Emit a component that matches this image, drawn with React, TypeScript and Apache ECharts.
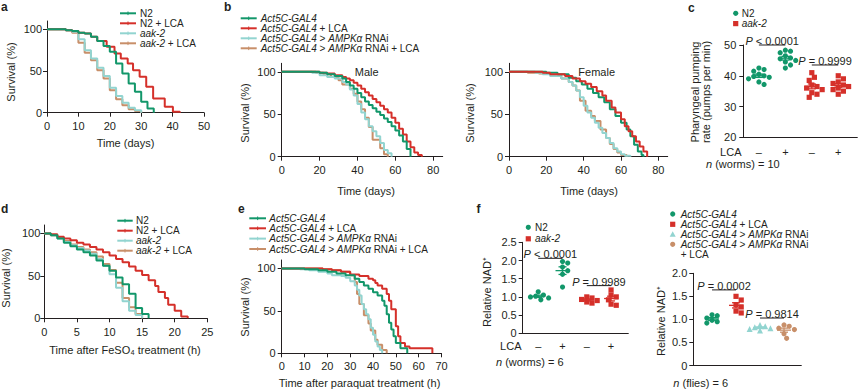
import React, { useEffect, useRef } from 'react';
import * as echarts from 'echarts';

const FONT = '"Liberation Sans", Arial, Helvetica, sans-serif';
const INK = '#231f20';
const GREEN = '#12976a';
const RED = '#d5302a';
const CYAN = '#92d4d0';
const TAN = '#c88f69';

// ---------- a: worm lifespan (days, % survival)
const aN2 = [[0,100],[6,99],[8,98],[10,96],[12,95],[14,91],[16,86],[18,80],[20,73],[22,59],[24,47],[26,35],[28,25],[30,13],[32,5],[34,0]];
const aN2LCA = [[0,100],[6,99],[8,98],[10,96],[12,95],[14,91],[16,86],[19,79],[21.5,71],[23.5,65],[25.7,59],[27.4,51],[29.5,43],[31.6,31],[33.8,17],[37.5,7],[40.1,1],[42.3,0]];
const aAak = [[0,100],[6,99],[8,97],[10,88],[12,75],[14,65],[16,54],[18,44],[20,30],[22,20],[24,12],[26,6],[28,3],[30,0]];
const aAakLCA = [[0,100],[6,99],[8,96],[10,84],[12,72],[14,63],[16,51],[18,41],[20,27],[22,16],[24,9],[26,4],[28,2],[30,0]];
const aLegend = ['N2', 'N2 + LCA', '{i|aak-2}', '{i|aak-2} + LCA'];
const aXTicks = [0, 10, 20, 30, 40, 50];

// ---------- b: fly lifespan
const bMaleCtl = [[0,100],[20,99],[24,97],[28,95],[32,92],[34,88],[36,84],[38,80],[40,75],[42,70],[44,65],[46,61],[48,57],[50,53],[52,49],[54,45],[56,41],[58,36],[60,31],[62,25],[64,18],[66,9],[68,0]];
const bMaleLCA = [[0,100],[20,99],[24,98],[28,96],[32,94],[34,92],[36,90],[38,87],[40,84],[42,80],[44,76],[46,72],[48,68],[50,64],[52,60],[54,56],[56,52],[58,46],[60,40],[62,33],[64,26],[66,18],[68,11],[70,5],[72,2],[74,0]];
const bMaleRNAi = [[0,100],[16,99],[20,96],[24,94],[28,92],[32,88],[34,85],[36,79],[38,72],[40,62],[42,52],[44,44],[46,36],[48,30],[50,24],[52,16],[54,8],[56,4],[58,0]];
const bMaleRNAiLCA = [[0,100],[18,99],[22,97],[26,94],[30,90],[32,85],[36,80],[38,74],[40,65],[42,56],[44,46],[46,35],[48,20],[52,10],[54,3],[56,0]];
const bFemCtl = [[0,100],[20,99],[26,97],[32,93],[36,89],[39,85],[42,80],[45,75],[48,70],[51,64],[54,56],[57,48],[60,40],[63,32],[65,24],[67,14],[69,6],[71,2],[72,0]];
const bFemLCA = [[0,100],[18,99],[22,97],[30,95],[34,92],[38,89],[41,86],[44,82],[47,77],[50,72],[52,66],[55,58],[57,52],[60,44],[62,36],[64,30],[66,24],[68,18],[70,12],[72,6],[74,0]];
const bFemRNAi = [[0,100],[14,99],[18,97],[22,95],[28,92],[32,88],[34,84],[36,78],[38,70],[40,60],[42,52],[44,46],[46,40],[48,34],[50,28],[52,22],[54,16],[56,10],[58,6],[60,3],[62,1],[65,0]];
const bFemRNAiLCA = [[0,100],[10,99],[16,98],[22,96],[28,92],[32,88],[34,84],[36,78],[38,66],[41,54],[44,48],[46,42],[49,32],[52,22],[54,15],[56,9],[58,5],[60,2],[63,0]];
const flyLegend = ['{i|Act5C-GAL4}', '{i|Act5C-GAL4} + LCA', '{i|Act5C-GAL4} > {i|AMPKα} RNAi', '{i|Act5C-GAL4} > {i|AMPKα} RNAi + LCA'];
const bXTicks = [0, 20, 40, 60, 80];

// ---------- c: pharyngeal pumping (pumps per min)
const cN2Ctl = [42.5, 42, 41.5, 40.5, 40, 39.8, 39.5, 39, 38, 37.2];
const cN2LCA = [48.3, 48, 47.5, 46.5, 45.8, 45.5, 45, 44.5, 43.5, 42.5];
const cAakCtl = [41, 39.5, 38.5, 37, 36.5, 36, 35.5, 34.5, 34, 33];
const cAakLCA = [40, 39, 38, 37.5, 37, 36.5, 36, 35.5, 35, 34];
const lcaSigns = ['–', '+', '–', '+'];
const cSig = [
  { x1: 1, x2: 2, y: 50, text: '{i|P} < 0.0001' },
  { x1: 3, x2: 4, y: 43.5, text: '{i|P} = 0.9999' },
];

// ---------- d: FeSO4 survival (h)
const dN2 = [[0,100],[1,98],[2,94],[3,89],[4,85],[5,81],[6,78],[7,74],[8,68],[9,62],[10,56],[11,48],[12,40],[13,29],[14,12],[15,5],[16,0]];
const dN2LCA = [[0,100],[1,99],[2,96],[3,94],[4,92],[5,89],[6,87],[7,84],[8,81],[9,78],[10,74],[11,70],[12,66],[13,61],[14,56],[15,51],[16,45],[17,38],[17.5,31],[18.5,24],[19,16],[20,9],[21,2],[22,0]];
const dAak = [[0,100],[1,98],[2,94],[3,90],[4,86],[5,83],[6,80],[7,76],[8,70],[9,62],[10,52],[11,36],[12,20],[13,9],[14,4],[15,0]];
const dAakLCA = [[0,100],[1,98],[2,95],[3,91],[4,87],[5,84],[6,81],[7,78],[8,73],[9,64],[10,57],[11,42],[12,24],[13,13],[14,5],[15,0]];
const dXTicks = [0, 5, 10, 15, 20, 25];

// ---------- e: paraquat survival (h)
const eCtl = [[0,100],[10,99],[16,98],[20,96],[24,94],[28,92],[32,88],[34,84],[36,80],[38,76],[40,72],[42,68],[44,62],[45,56],[46,46],[47,36],[48,28],[49,20],[50,12],[52,6],[55,0]];
const eLCA = [[0,100],[18,99],[22,98],[26,96],[30,93],[34,91],[38,88],[40,86],[41,83],[42,80],[44,76],[46,70],[47,62],[48,52],[50,32],[51,20],[52,12],[54,8],[56,6],[66,0]];
const eRNAi = [[0,100],[8,99],[12,98],[16,96],[20,94],[22,92],[26,91],[28,89],[30,85],[32,80],[33,75],[34,68],[35,58],[36,52],[37,46],[38,40],[39,30],[40,22],[41,14],[42,8],[43,4],[44,0]];
const eRNAiLCA = [[0,100],[18,99],[22,98],[26,96],[30,92],[32,84],[33,70],[34,58],[36,45],[38,35],[39,27],[41,16],[42,10],[44,4],[46,0]];
const eXTicks = [0, 10, 20, 30, 40, 50, 60, 70];

// ---------- f: relative NAD+
const fN2Ctl = [1.14, 1.05, 1.02, 1.0, 0.97, 0.92];
const fN2LCA = [1.97, 1.93, 1.82, 1.72, 1.62, 1.27];
const fAakCtl = [1.0, 0.97, 0.93, 0.9, 0.86, 0.83];
const fAakLCA = [1.19, 1.05, 1.0, 0.92, 0.8, 0.77];
const fSigWorm = [
  { x1: 1, x2: 2, y: 2.06, text: '{i|P} < 0.0001' },
  { x1: 3, x2: 4, y: 1.31, text: '{i|P} = 0.9989' },
];
const gFlyCtl = [1.1, 1.08, 1.03, 0.98, 0.95, 0.92];
const gFlyLCA = [1.5, 1.42, 1.32, 1.27, 1.18, 1.14];
const gFlyRNAi = [0.88, 0.85, 0.83, 0.81, 0.79, 0.76];
const gFlyRNAiLCA = [0.88, 0.85, 0.81, 0.78, 0.69, 0.59];
const fSigFly = [
  { x1: 1, x2: 2, y: 1.64, text: '{i|P} = 0.0002' },
  { x1: 3, x2: 4, y: 1.03, text: '{i|P} = 0.9814' },
];
const fFlyLegend = ['{i|Act5C-GAL4}', '{i|Act5C-GAL4} + LCA', '{i|Act5C-GAL4} > {i|AMPKα} RNAi', '{i|Act5C-GAL4} > {i|AMPKα} RNAi', '+ LCA'];

// ---------- helpers
const rich = (fs: number, lh: number) => ({
  i: { fontStyle: 'italic', fontFamily: FONT, fontSize: fs, lineHeight: lh, fill: INK, color: INK },
});

const T = (x: number, y: number, text: string, o: any = {}) => {
  const fs = o.fontSize ?? 11;
  const lh = o.lineHeight ?? 10;
  return {
    type: 'text', x, y, silent: true, z: 100,
    rotation: o.rotation ?? 0,
    style: {
      text, fontFamily: FONT, fontSize: fs, fontWeight: o.fontWeight ?? 'normal',
      fill: INK, align: o.align ?? 'left', verticalAlign: o.verticalAlign ?? 'middle',
      lineHeight: lh, rich: rich(fs, lh),
    },
  };
};
const LEG = { fontSize: 10, lineHeight: 9 };

const lineLegend = (x1: number, x2: number, tx: number, ys: number[], colors: string[], labels: string[]) =>
  labels.flatMap((lab, k) => [
    { type: 'line', silent: true, z: 100, shape: { x1, y1: ys[k], x2, y2: ys[k] }, style: { stroke: colors[k], lineWidth: 2 } },
    { type: 'line', silent: true, z: 100, shape: { x1: (x1 + x2) / 2, y1: ys[k] - 1.8, x2: (x1 + x2) / 2, y2: ys[k] + 1.8 }, style: { stroke: colors[k], lineWidth: 1 } },
    T(tx, ys[k], lab, LEG),
  ]);

const marker = (kind: string, cx: number, cy: number, color: string) => {
  if (kind === 'circle') return { type: 'circle', silent: true, z: 100, shape: { cx, cy, r: 2.6 }, style: { fill: color } };
  if (kind === 'rect') return { type: 'rect', silent: true, z: 100, shape: { x: cx - 2.6, y: cy - 2.6, width: 5.2, height: 5.2 }, style: { fill: color } };
  return { type: 'polygon', silent: true, z: 100, shape: { points: [[cx, cy - 3], [cx + 3, cy + 2.4], [cx - 3, cy + 2.4]] }, style: { fill: color } };
};

const surv = (idx: number, data: number[][], color: string) => ({
  type: 'line', xAxisIndex: idx, yAxisIndex: idx, data, step: 'end', symbol: 'none', showSymbol: false,
  lineStyle: { color, width: 2 }, itemStyle: { color }, silent: true, clip: false,
});

function swarm(vals: number[], cat: number, pxX: number, pxY: number, d: number) {
  const placed: { x: number; y: number }[] = [];
  const out: number[][] = [];
  const order = vals.map((_, i) => i).sort((a, b) => vals[b] - vals[a]);
  for (const i of order) {
    const py = vals[i] * pxY;
    let dx = 0;
    for (let s = 0; s < 40; s++) {
      const cand = s === 0 ? 0 : (s % 2 ? 1 : -1) * Math.ceil(s / 2) * d * 0.5;
      if (placed.every((p) => Math.hypot(p.x - cand, p.y - py) >= d * 0.95)) { dx = cand; break; }
    }
    placed.push({ x: dx, y: py });
    out.push([cat + dx / pxX, vals[i]]);
  }
  return out;
}

const mean = (a: number[]) => a.reduce((s, v) => s + v, 0) / a.length;
const sem = (a: number[]) => {
  const m = mean(a);
  return Math.sqrt(a.reduce((s, v) => s + (v - m) ** 2, 0) / (a.length - 1)) / Math.sqrt(a.length);
};

const dotGroup = (idx: number, vals: number[], cat: number, symbol: string, color: string, pxX: number, pxY: number) => ({
  type: 'scatter', xAxisIndex: idx, yAxisIndex: idx, silent: true, z: 5,
  data: swarm(vals, cat, pxX, pxY, 5.2), symbol, symbolSize: symbol === 'triangle' ? 6 : 5.2,
  itemStyle: { color, opacity: 1 },
});

const meanSem = (idx: number, groups: { vals: number[]; cat: number; color: string }[]) => ({
  type: 'custom', xAxisIndex: idx, yAxisIndex: idx, silent: true, z: 8, clip: false,
  data: groups.map((g) => [g.cat, mean(g.vals), sem(g.vals)]),
  encode: { x: 0, y: 1 },
  renderItem: (params: any, api: any) => {
    const g = groups[params.dataIndex];
    const m = mean(g.vals), s = sem(g.vals);
    const c = api.coord([g.cat, m]);
    const t = api.coord([g.cat, m + s]);
    const b = api.coord([g.cat, m - s]);
    const st = { stroke: g.color, lineWidth: 1.3 };
    return {
      type: 'group', children: [
        { type: 'line', shape: { x1: c[0] - 7, y1: c[1], x2: c[0] + 7, y2: c[1] }, style: st },
        { type: 'line', shape: { x1: c[0], y1: t[1], x2: c[0], y2: b[1] }, style: st },
        { type: 'line', shape: { x1: c[0] - 4, y1: t[1], x2: c[0] + 4, y2: t[1] }, style: st },
        { type: 'line', shape: { x1: c[0] - 4, y1: b[1], x2: c[0] + 4, y2: b[1] }, style: st },
      ],
    };
  },
});

const sigSeries = (idx: number, sigs: { x1: number; x2: number; y: number; text: string }[]) => ({
  type: 'custom', xAxisIndex: idx, yAxisIndex: idx, silent: true, z: 20, clip: false,
  data: sigs.map((s) => [s.x1, s.y, s.x2]),
  encode: { x: 0, y: 1 },
  renderItem: (params: any, api: any) => {
    const s = sigs[params.dataIndex];
    const a = api.coord([s.x1, s.y]);
    const b = api.coord([s.x2, s.y]);
    return {
      type: 'group', children: [
        { type: 'line', shape: { x1: a[0], y1: a[1], x2: b[0], y2: b[1] }, style: { stroke: INK, lineWidth: 1 } },
        { type: 'text', x: (a[0] + b[0]) / 2, y: a[1] + 1.5, style: { text: s.text, fontFamily: FONT, fontSize: 11, lineHeight: 11, fill: INK, align: 'center', verticalAlign: 'bottom', rich: rich(11, 11) } },
      ],
    };
  },
});

const axis = (gridIndex: number, o: any) => {
  const ax: any = {
    gridIndex, type: 'value', min: o.min, max: o.max,
    axisLine: { show: true, onZero: false, lineStyle: { color: INK, width: 1 } },
    axisTick: { show: o.ticks !== false, length: 4, lineStyle: { color: INK, width: 1 } },
    axisLabel: { show: o.labels !== false, color: INK, fontFamily: FONT, fontSize: 11, margin: o.margin ?? 6, showMinLabel: true, showMaxLabel: true },
    splitLine: { show: false },
  };
  if (o.interval !== undefined) ax.interval = o.interval;
  if (o.values) { ax.axisTick.customValues = o.values; ax.axisLabel.customValues = o.values; }
  if (o.formatter) ax.axisLabel.formatter = o.formatter;
  return ax;
};

const decFmt = (v: number) => (v === 0 ? '0' : v.toFixed(1));
const signFmt = (v: number) => lcaSigns[Math.round(v) - 1] ?? '';

function buildOption() {
  const gridBase = { containLabel: false, outerBoundsMode: 'none', show: false };
  const grid = [
    { left: 47, top: 21, width: 157, height: 91.7 },
    { left: 281.7, top: 63.3, width: 161, height: 93.4 },
    { left: 509, top: 63.3, width: 158.7, height: 93.4 },
    { left: 743.3, top: 45, width: 114, height: 92.3 },
    { left: 44.3, top: 225, width: 163, height: 93.3 },
    { left: 281.7, top: 260, width: 159.8, height: 93.3 },
    { left: 522.7, top: 242.3, width: 105.6, height: 91 },
    { left: 693.3, top: 273.3, width: 108, height: 92.2 },
  ].map((g) => ({ ...gridBase, ...g }));

  const survY = { min: 0, max: 110, values: [0, 50, 100], margin: 5 };
  const xAxis = [
    axis(0, { min: 0, max: 50, values: aXTicks, margin: 8 }),
    axis(1, { min: 0, max: 85, values: bXTicks, margin: 8 }),
    axis(2, { min: 0, max: 85, values: bXTicks, margin: 8 }),
    axis(3, { min: 0.41, max: 4.72, values: [1, 2, 3, 4], ticks: false, formatter: signFmt, margin: 9 }),
    axis(4, { min: 0, max: 25, values: dXTicks, margin: 8 }),
    axis(5, { min: 0, max: 70, values: eXTicks, margin: 7 }),
    axis(6, { min: 0.36, max: 4.71, values: [1, 2, 3, 4], ticks: false, formatter: signFmt, margin: 7 }),
    axis(7, { min: 0.22, max: 4.72, values: [1, 2, 3, 4], ticks: false, labels: false }),
  ];
  const yAxis = [
    axis(0, survY),
    axis(1, { ...survY, margin: 6 }),
    axis(2, { ...survY, margin: 6 }),
    axis(3, { min: 20, max: 50, interval: 10, margin: 7 }),
    axis(4, { ...survY, margin: 4 }),
    axis(5, { ...survY, margin: 6 }),
    axis(6, { min: 0, max: 2.5, interval: 0.5, formatter: decFmt, margin: 6 }),
    axis(7, { min: 0, max: 2, interval: 0.5, formatter: decFmt, margin: 6 }),
  ];

  const series: any[] = [
    surv(0, aAakLCA, TAN), surv(0, aAak, CYAN), surv(0, aN2LCA, RED), surv(0, aN2, GREEN),
    surv(1, bMaleRNAiLCA, TAN), surv(1, bMaleRNAi, CYAN), surv(1, bMaleLCA, RED), surv(1, bMaleCtl, GREEN),
    surv(2, bFemRNAiLCA, TAN), surv(2, bFemRNAi, CYAN), surv(2, bFemCtl, GREEN), surv(2, bFemLCA, RED),
    surv(4, dAakLCA, TAN), surv(4, dAak, CYAN), surv(4, dN2LCA, RED), surv(4, dN2, GREEN),
    surv(5, eRNAiLCA, TAN), surv(5, eRNAi, CYAN), surv(5, eLCA, RED), surv(5, eCtl, GREEN),
    // c
    dotGroup(3, cN2Ctl, 1, 'circle', GREEN, 26.6, 3.077),
    dotGroup(3, cN2LCA, 2, 'circle', GREEN, 26.6, 3.077),
    dotGroup(3, cAakCtl, 3, 'rect', RED, 26.6, 3.077),
    dotGroup(3, cAakLCA, 4, 'rect', RED, 26.6, 3.077),
    meanSem(3, [
      { vals: cN2Ctl, cat: 1, color: GREEN }, { vals: cN2LCA, cat: 2, color: GREEN },
      { vals: cAakCtl, cat: 3, color: RED }, { vals: cAakLCA, cat: 4, color: RED },
    ]),
    sigSeries(3, cSig),
    // f worms
    dotGroup(6, fN2Ctl, 1, 'circle', GREEN, 24.3, 36.4),
    dotGroup(6, fN2LCA, 2, 'circle', GREEN, 24.3, 36.4),
    dotGroup(6, fAakCtl, 3, 'rect', RED, 24.3, 36.4),
    dotGroup(6, fAakLCA, 4, 'rect', RED, 24.3, 36.4),
    meanSem(6, [
      { vals: fN2Ctl, cat: 1, color: GREEN }, { vals: fN2LCA, cat: 2, color: GREEN },
      { vals: fAakCtl, cat: 3, color: RED }, { vals: fAakLCA, cat: 4, color: RED },
    ]),
    sigSeries(6, fSigWorm),
    // f flies
    dotGroup(7, gFlyCtl, 1, 'circle', GREEN, 24, 46),
    dotGroup(7, gFlyLCA, 2, 'rect', RED, 24, 46),
    dotGroup(7, gFlyRNAi, 3, 'triangle', CYAN, 24, 46),
    dotGroup(7, gFlyRNAiLCA, 4, 'circle', TAN, 24, 46),
    meanSem(7, [
      { vals: gFlyCtl, cat: 1, color: GREEN }, { vals: gFlyLCA, cat: 2, color: RED },
      { vals: gFlyRNAi, cat: 3, color: CYAN }, { vals: gFlyRNAiLCA, cat: 4, color: TAN },
    ]),
    sigSeries(7, fSigFly),
  ];

  const four = [GREEN, RED, CYAN, TAN];
  const R = Math.PI / 2;
  const graphic: any[] = [
    // panel letters
    T(1, 7, 'a', { fontWeight: 'bold', fontSize: 12 }),
    T(224, 7, 'b', { fontWeight: 'bold', fontSize: 12 }),
    T(688, 7.5, 'c', { fontWeight: 'bold', fontSize: 12 }),
    T(1, 209, 'd', { fontWeight: 'bold', fontSize: 12 }),
    T(238, 209, 'e', { fontWeight: 'bold', fontSize: 12 }),
    T(476.5, 209, 'f', { fontWeight: 'bold', fontSize: 12 }),
    // legends
    ...lineLegend(120, 136, 140, [13.3, 23.3, 33.3, 43.3], four, aLegend),
    ...lineLegend(240.7, 256.7, 260.7, [18.3, 28.3, 38.3, 48.3], four, flyLegend),
    ...lineLegend(117.3, 132.7, 136, [220.7, 230.7, 240.7, 250.7], four, aLegend),
    ...lineLegend(249.3, 266, 269.3, [218.3, 228.3, 238.6, 249], four, flyLegend),
    marker('circle', 735.7, 13.3, GREEN), T(741.7, 13.3, 'N2', LEG),
    marker('rect', 735.7, 23.6, RED), T(741.7, 23.6, '{i|aak-2}', LEG),
    marker('circle', 528.3, 227.3, GREEN), T(535, 227.3, 'N2', LEG),
    marker('rect', 528.3, 238.8, RED), T(535, 238.8, '{i|aak-2}', LEG),
    marker('circle', 672.7, 214, GREEN), T(680.7, 214, fFlyLegend[0], LEG),
    marker('rect', 672.7, 224.3, RED), T(680.7, 224.3, fFlyLegend[1], LEG),
    marker('triangle', 672.7, 234.3, CYAN), T(680.7, 234.3, fFlyLegend[2], LEG),
    marker('circle', 672.7, 244.3, TAN), T(680.7, 244.3, fFlyLegend[3], LEG),
    T(680.7, 254, fFlyLegend[4], LEG),
    // axis titles
    T(10.5, 72, 'Survival (%)', { rotation: R, align: 'center' }),
    T(125.5, 143, 'Time (days)', { align: 'center' }),
    T(245, 113, 'Survival (%)', { rotation: R, align: 'center' }),
    T(366, 191, 'Time (days)', { align: 'center' }),
    T(470, 113, 'Survival (%)', { rotation: R, align: 'center' }),
    T(589, 191, 'Time (days)', { align: 'center' }),
    T(700, 92, 'Pharyngeal pumping\nrate (pumps per min)', { rotation: R, align: 'center', lineHeight: 11 }),
    T(6, 278, 'Survival (%)', { rotation: R, align: 'center' }),
    T(125, 350, 'Time after FeSO₄ treatment (h)', { align: 'center' }),
    T(245, 307, 'Survival (%)', { rotation: R, align: 'center' }),
    T(359.5, 382.7, 'Time after paraquat treatment (h)', { align: 'center' }),
    T(486.7, 292, 'Relative NAD⁺', { rotation: R, align: 'center' }),
    T(660.7, 321, 'Relative NAD⁺', { rotation: R, align: 'center' }),
    // in-plot labels
    T(366.7, 72, 'Male', { align: 'center' }),
    T(596.7, 72, 'Female', { align: 'center' }),
    // LCA rows and n labels
    T(741.5, 152.3, 'LCA', { align: 'right' }),
    T(706, 163.5, '{i|n} (worms) = 10'),
    T(521.5, 346, 'LCA', { align: 'right' }),
    T(496, 361.7, '{i|n} (worms) = 6'),
    T(673.3, 383.3, '{i|n} (flies) = 6'),
  ];

  return {
    animation: false,
    backgroundColor: '#ffffff',
    textStyle: { fontFamily: FONT },
    grid, xAxis, yAxis, series, graphic,
  };
}

export default function App() {
  const ref = useRef<HTMLDivElement>(null);
  useEffect(() => {
    if (!ref.current) return;
    const chart = echarts.init(ref.current, null, { renderer: 'svg' });
    chart.setOption(buildOption() as any);
    return () => chart.dispose();
  }, []);
  return <div ref={ref} style={{ position: 'fixed', left: 0, top: 0, width: 858, height: 389, background: '#fff' }} />;
}
